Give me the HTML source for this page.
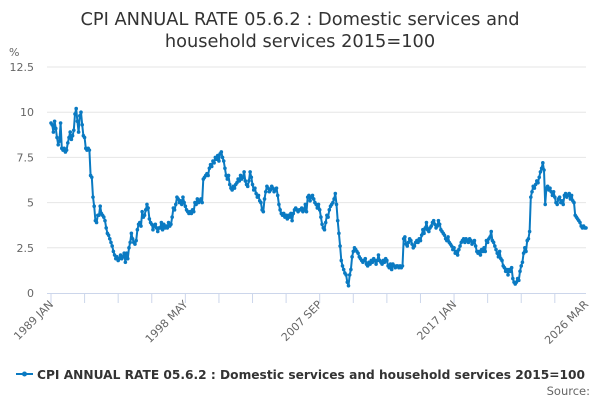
<!DOCTYPE html>
<html><head><meta charset="utf-8"><style>
body{margin:0;background:#fff;font-family:"Liberation Sans","DejaVu Sans",sans-serif}
svg text{font-family:"DejaVu Sans","Liberation Sans",sans-serif}
</style></head><body>
<svg id="chart" width="600" height="400" viewBox="0 0 600 400" xmlns="http://www.w3.org/2000/svg">
<text x="300" y="25" text-anchor="middle" font-size="17.8" fill="#333">CPI ANNUAL RATE 05.6.2 : Domestic services and</text>
<text x="300" y="47" text-anchor="middle" font-size="17.8" fill="#333">household services 2015=100</text>
<text x="9" y="56" font-size="11" fill="#666">%</text>
<g id="grid"></g><g id="xaxis"></g><g id="series"></g>
<g>
<line x1="16" y1="374" x2="33" y2="374" stroke="#0a7ac2" stroke-width="2"/>
<circle cx="24.5" cy="374" r="2.5" fill="#0a7ac2"/>
<text x="37" y="379" font-size="12.2" font-weight="bold" fill="#333" textLength="548" lengthAdjust="spacingAndGlyphs">CPI ANNUAL RATE 05.6.2 : Domestic services and household services 2015=100</text>
</g>
<text x="590" y="395" text-anchor="end" font-size="11.5" fill="#666">Source:</text>
</svg>
<script>
const yTicks=[0,2.5,5,7.5,10,12.5];
const yTickLabels=["0","2.5","5","7.5","10","12.5"];
const xTickLabels=["1989 JAN","1998 MAY","2007 SEP","2017 JAN","2026 MAR"];
const values=[
9.4,9.3,8.9,9.5,9.1,8.6,8.2,8.4,9.4,
8.0,7.9,8.0,7.8,7.9,8.3,8.6,8.9,8.5,8.7,9.0,9.9,
10.2,9.5,8.9,9.8,10.0,9.3,8.7,8.6,8.0,7.9,8.0,7.9,
6.5,6.4,5.3,4.8,4.0,3.9,4.3,4.3,4.8,4.4,4.3,4.2,
4.0,3.6,3.3,3.2,3.0,2.8,2.6,2.3,2.1,1.9,2.0,1.8,
1.9,2.1,1.9,2.0,2.2,1.7,2.2,1.9,2.5,2.8,3.3,3.0,
2.8,2.7,2.9,3.5,3.8,3.9,3.7,4.5,4.2,4.3,4.6,4.9,
4.7,4.1,3.9,3.8,3.5,3.7,3.8,3.6,3.4,3.6,3.6,3.9,
3.5,3.8,3.6,3.7,3.6,3.9,3.7,3.8,4.2,4.7,4.6,4.9,
5.3,5.2,5.0,5.1,4.9,5.3,5.0,4.8,4.6,4.5,4.4,4.5,
4.4,4.6,4.5,5.0,4.9,5.2,5.0,5.1,5.2,5.0,6.3,6.4,
6.5,6.6,6.5,6.9,7.1,7.0,7.3,7.2,7.5,7.4,7.6,7.3,
7.7,7.8,7.5,7.3,6.9,6.5,6.3,6.5,6.0,5.8,5.7,5.9,
5.8,6.0,6.1,6.3,6.2,6.5,6.3,6.4,6.7,6.2,6.0,5.9,
6.2,6.7,6.4,6.0,5.7,5.8,5.5,5.3,5.4,5.1,5.0,4.6,
4.5,5.2,5.6,5.9,5.8,5.6,5.7,5.9,5.8,5.6,5.7,5.8,
5.4,4.9,4.6,4.4,4.3,4.4,4.2,4.3,4.1,4.3,4.2,4.4,
4.0,4.4,4.6,4.7,4.6,4.5,4.6,4.6,4.7,4.5,4.6,4.9,
4.5,5.3,5.4,5.1,5.3,5.4,5.2,5.0,4.9,4.7,4.9,4.6,
4.2,3.8,3.6,3.5,3.9,4.3,4.2,4.6,4.8,4.9,5.0,5.2,
5.5,4.9,4.0,3.3,2.6,1.8,1.5,1.3,1.1,1.0,0.6,0.4,
1.0,1.3,2.0,2.3,2.5,2.4,2.3,2.2,2.0,1.9,1.8,1.7,
1.8,1.9,1.6,1.5,1.7,1.6,1.8,1.7,1.9,1.8,1.6,1.8,
2.1,1.8,1.7,1.6,1.8,1.7,1.9,1.8,1.5,1.4,1.6,1.3,
1.6,1.5,1.4,1.5,1.5,1.4,1.5,1.4,1.5,3.0,3.1,2.7,
2.6,2.8,3.0,2.9,2.7,2.5,2.6,2.8,2.9,2.8,3.0,2.9,
3.2,3.5,3.3,3.6,3.9,3.5,3.4,3.6,3.7,3.9,4.0,3.8,
3.6,3.7,4.0,3.8,3.5,3.4,3.3,3.2,3.0,2.9,3.1,2.8,
2.7,2.6,2.4,2.5,2.2,2.3,2.1,2.4,2.6,2.8,2.9,3.0,
2.8,3.0,2.9,2.8,3.0,2.9,2.7,2.8,2.9,2.6,2.3,2.2,
2.3,2.1,2.4,2.3,2.5,2.3,2.9,2.8,3.0,3.1,3.4,2.9,
2.8,2.6,2.4,2.2,2.0,2.3,1.9,1.8,1.5,1.4,1.2,1.3,
1.0,1.3,1.2,1.4,0.8,0.6,0.5,0.6,0.8,0.7,1.2,1.5,
1.7,2.2,2.5,2.3,2.9,3.0,3.4,5.3,5.6,5.9,5.8,6.0,
6.2,6.1,6.4,6.7,6.9,7.2,6.8,4.9,5.8,5.9,5.7,5.8,
5.6,5.4,5.6,5.3,5.0,4.9,5.2,5.3,5.0,5.1,4.9,5.4,
5.5,5.3,5.4,5.5,5.2,5.4,5.1,5.0,4.3,4.2,4.1,4.0,
3.9,3.7,3.6,3.7,3.6,3.6];
const X0=51,X1=586,Y0=293,YTOP=67;
const xScale=i=>X0+(X1-X0)*i/(values.length-1);
const yScale=v=>Y0-(Y0-YTOP)*v/12.5;
const NS="http://www.w3.org/2000/svg";
function mk(tag,attrs,parent){const e=document.createElementNS(NS,tag);for(const k in attrs)e.setAttribute(k,attrs[k]);parent.appendChild(e);return e;}
const grid=document.getElementById('grid');
yTicks.forEach((t,k)=>{
  const y=yScale(t);
  if(t>0){const l=mk('line',{x1:X0-4,x2:X1,y1:y,y2:y,stroke:'#e6e6e6','stroke-width':1},grid);
  
  }
  const tx=mk('text',{x:34,y:y+4,'text-anchor':'end','font-size':11,fill:'#666'},grid);
  tx.textContent=yTickLabels[k];
  
  
});
const xa=document.getElementById('xaxis');
const ax=mk('line',{x1:X0-4,x2:X1,y1:Y0+0.5,y2:Y0+0.5,stroke:'#ccd6eb','stroke-width':1},xa);


for(let m=0;m<values.length;m+=28){
  const x=xScale(m);
  const t=mk('line',{x1:x,x2:x,y1:Y0,y2:Y0+10,stroke:'#ccd6eb','stroke-width':1},xa);
  
  
}
xTickLabels.forEach((lab,k)=>{
  const m=Math.min(k*112,values.length-1);
  const x=xScale(m);
  const t=mk('text',{x:x+3,y:Y0+12,'text-anchor':'end','font-size':11,fill:'#666',transform:`rotate(-45 ${x+3} ${Y0+12})`},xa);
  t.textContent=lab;
  
  
});
const s=document.getElementById('series');
const pts=values.map((v,i)=>xScale(i).toFixed(1)+','+yScale(v).toFixed(1)).join(' ');
const pl=mk('polyline',{points:pts,fill:'none',stroke:'#0a7ac2','stroke-width':2,'stroke-linejoin':'round'},s);


values.forEach((v,i)=>{
  const c=mk('circle',{cx:xScale(i),cy:yScale(v),r:1.8,fill:'#0a7ac2'},s);
  
  
});
</script>
</body></html>
